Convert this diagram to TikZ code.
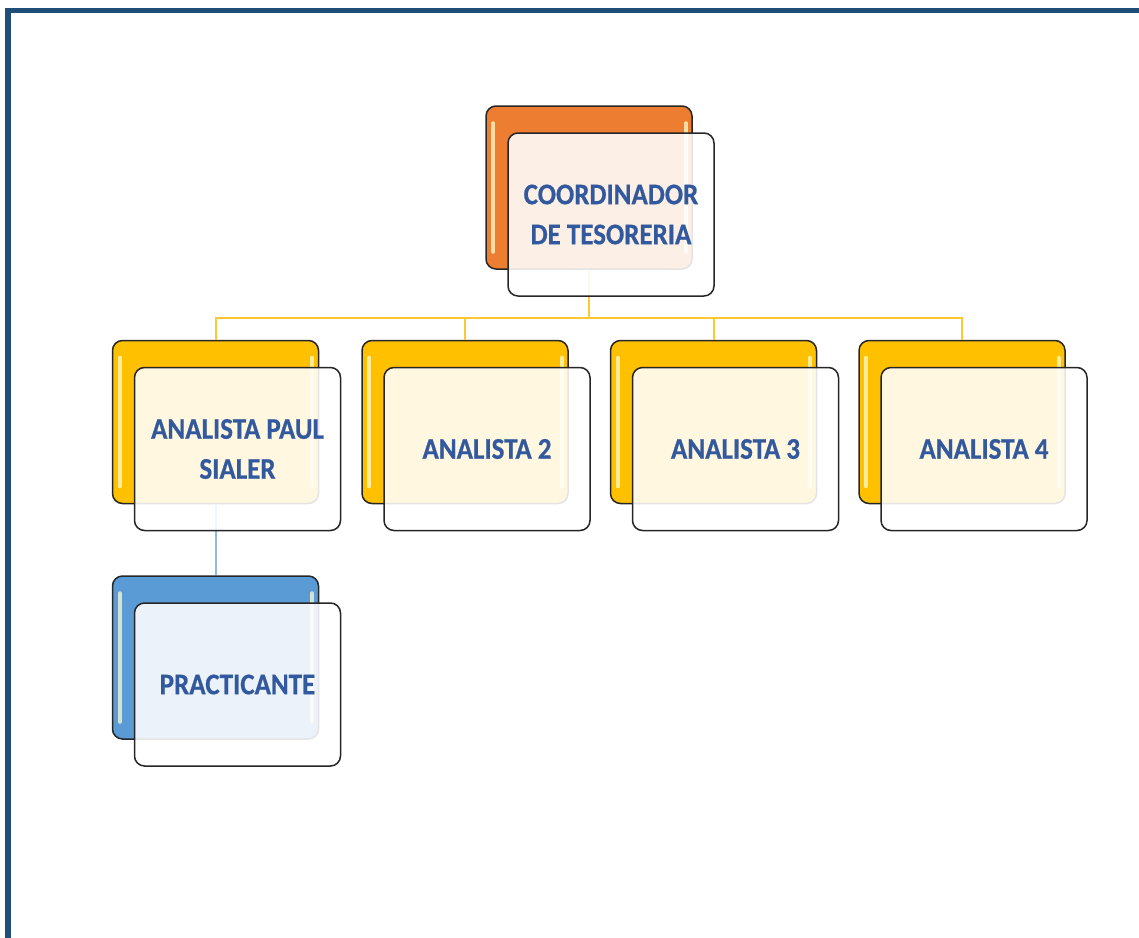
\documentclass[tikz,border=0pt]{standalone}
\usepackage{fontspec}
\setmainfont{Carlito}
\newfontfamily\boxfont[FakeStretch=0.9,FakeBold=0.6]{Carlito}
\usetikzlibrary{positioning}

\definecolor{frameblue}{RGB}{31,78,121}
\definecolor{txtblue}{RGB}{50,88,158}
\definecolor{orangebox}{RGB}{237,125,49}
\definecolor{yellowbox}{RGB}{255,192,0}
\definecolor{bluebox}{RGB}{91,155,213}
\definecolor{yellowline}{RGB}{255,200,50}
\definecolor{blueline}{RGB}{140,185,230}

\tikzset{
  back/.style={draw=black!85, line width=0.75pt, rounded corners=5pt,
    minimum width=103pt, minimum height=81.5pt, inner sep=0pt},
  front/.style={back, fill=white, fill opacity=0.88, text opacity=1,
    text=txtblue, align=center,
    font=\boxfont\bfseries\fontsize{15}{20}\selectfont},
  gloss/.style={white!80!yellow, opacity=0.75, line width=2pt, line cap=round},
  yline/.style={yellowline, line width=1pt},
  bline/.style={blueline, line width=1pt}
}

\begin{document}
\begin{tikzpicture}[x=0.5pt, y=-0.5pt]
\useasboundingbox (0,0) rectangle (1139,937);
% frame
\draw[frameblue, line width=2.75pt] (8,960) -- (8,10.5) -- (1160,10.5);

% back boxes
\node[back, fill=orangebox] (tes) at (589,187.5) {};
\node[back, fill=yellowbox] (an1) at (215.5,422) {};
\node[back, fill=yellowbox, right=21pt of an1] (an2) {};
\node[back, fill=yellowbox, right=20.5pt of an2] (an3) {};
\node[back, fill=yellowbox, right=20.5pt of an3] (an4) {};
\node[back, fill=bluebox, below=35.5pt of an1] (prac) {};
\foreach \n in {tes,an1,an2,an3,an4,prac} {
  \draw[gloss] ([xshift=4pt,yshift=-9pt]\n.north west) -- ([xshift=4pt,yshift=9pt]\n.south west);
  \draw[gloss] ([xshift=-3.5pt,yshift=-9pt]\n.north east) -- ([xshift=-3.5pt,yshift=9pt]\n.south east);
}

% connectors
\coordinate (bus) at (589,318);
\draw[yline] (tes.south) -- (bus);
\foreach \n in {an1,an2,an3,an4}
  \draw[yline] (bus) -| (\n.north);
\draw[bline] (an1.south) -- (prac.north);

% front boxes
\node[front] (tesTxt) at ([shift={(22,27)}]tes.center) {COORDINADOR\\DE TESORERIA};
\node[front] (an1Txt) at ([shift={(22,27)}]an1.center) {ANALISTA PAUL\\SIALER};
\node[front] (an2Txt) at ([shift={(22,27)}]an2.center) {ANALISTA 2};
\node[front] (an3Txt) at ([shift={(22,27)}]an3.center) {ANALISTA 3};
\node[front] (an4Txt) at ([shift={(22,27)}]an4.center) {ANALISTA 4};
\node[front] (pracTxt) at ([shift={(22,27)}]prac.center) {PRACTICANTE};
\end{tikzpicture}
\end{document}
